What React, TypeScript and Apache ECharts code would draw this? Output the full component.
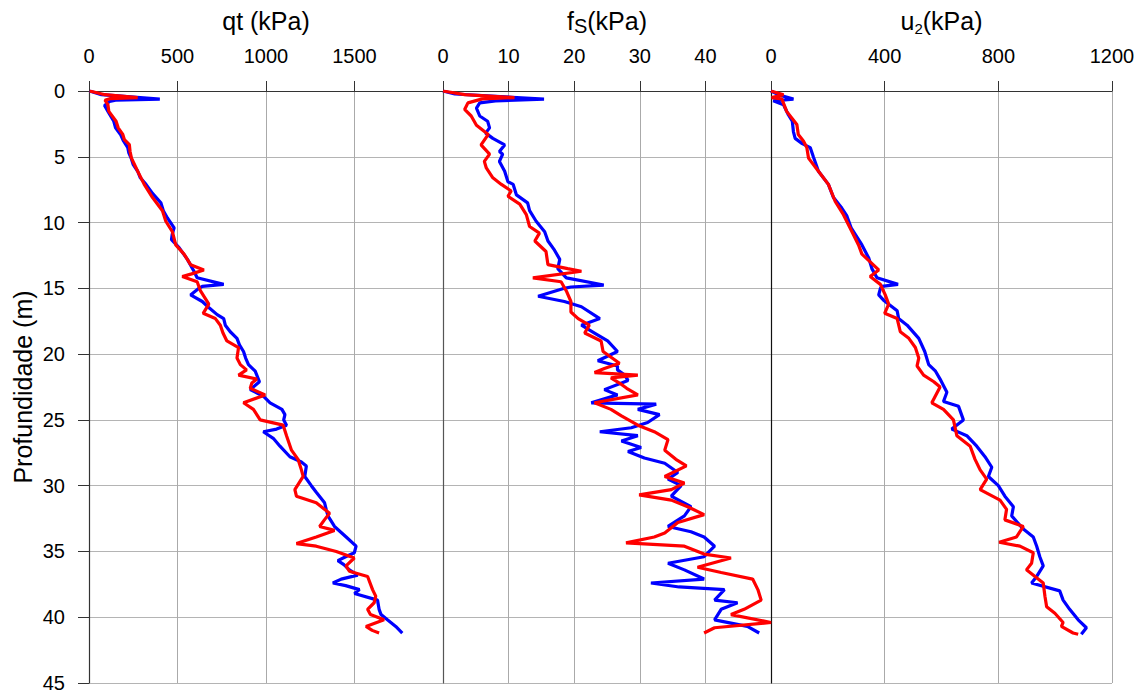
import React, { useEffect, useRef } from "react";
import * as echarts from "echarts";

// ---- Data (depth in m, values in kPa) ----
const qtBlueDepth = [0, 0.28, 0.62, 0.7, 0.8, 1.1, 1.55, 2.3, 2.8, 3.3, 3.8, 4.3, 4.7, 5.1, 5.6, 6.1, 6.6, 7.1, 7.8, 8.5, 9.1, 9.65, 10.4, 10.9, 11.3, 11.9, 12.8, 13.7, 14.2, 14.7, 14.85, 15.0, 15.5, 16.0, 16.5, 17.0, 17.3, 17.8, 18.3, 18.8, 19.3, 19.8, 20.3, 20.8, 21.3, 22.1, 22.7, 23.2, 23.7, 24.2, 24.6, 25.0, 25.4, 25.7, 25.9, 26.4, 27.0, 27.8, 28.2, 28.5, 29.3, 30.0, 30.5, 31.3, 31.8, 32.3, 33.1, 33.9, 34.6, 35.1, 35.4, 35.7, 36.0, 36.4, 36.8, 37.1, 37.4, 37.6, 37.9, 38.2, 38.7, 39.4, 39.8, 40.2, 40.7, 41.2];
const qtBlueValue = [4, 70, 400, 150, 116, 88, 107, 140, 150, 178, 195, 219, 225, 238, 250, 275, 290, 322, 360, 406, 420, 443, 481, 470, 466, 509, 556, 593, 611, 761, 640, 621, 574, 640, 680, 724, 761, 770, 798, 836, 850, 873, 885, 901, 939, 963, 911, 985, 1023, 1090, 1107, 1100, 1116, 1060, 985, 1041, 1079, 1135, 1200, 1228, 1219, 1256, 1284, 1331, 1340, 1350, 1387, 1453, 1509, 1499, 1450, 1406, 1440, 1471, 1518, 1425, 1378, 1450, 1528, 1500, 1630, 1639, 1650, 1686, 1733, 1770];
const qtRedDepth = [0, 0.28, 0.5, 0.58, 0.7, 1.04, 1.55, 2.3, 2.8, 3.3, 3.7, 4.08, 4.6, 5.1, 6.1, 7.1, 8.1, 9.1, 9.9, 10.7, 11.7, 12.4, 13.2, 13.6, 13.9, 14.1, 14.5, 15.2, 16.2, 16.9, 17.3, 17.8, 18.4, 19.0, 19.5, 20.3, 20.8, 21.2, 21.6, 21.9, 22.2, 22.6, 23.1, 23.7, 24.2, 25.0, 25.4, 26.2, 27.3, 28.0, 28.8, 29.3, 30.3, 30.8, 31.3, 32.1, 32.6, 33.1, 33.4, 33.9, 34.4, 34.6, 35.0, 35.5, 36.1, 36.5, 36.9, 37.9, 38.4, 38.9, 39.4, 39.8, 40.2, 40.7, 41.0, 41.2];
const qtRedValue = [4, 90, 275, 120, 90, 107, 112, 153, 165, 191, 200, 228, 232, 240, 275, 312, 359, 415, 434, 471, 490, 537, 574, 649, 580, 527, 611, 630, 677, 645, 714, 742, 757, 779, 845, 836, 855, 890, 845, 948, 920, 911, 995, 873, 929, 967, 1097, 1116, 1144, 1181, 1200, 1210, 1163, 1172, 1284, 1359, 1330, 1303, 1387, 1284, 1172, 1284, 1397, 1499, 1452, 1471, 1574, 1602, 1620, 1611, 1574, 1590, 1667, 1565, 1600, 1639];

const fsBlueDepth = [0, 0.23, 0.62, 0.75, 0.9, 1.3, 1.9, 2.3, 2.8, 3.2, 3.6, 4.1, 4.6, 4.8, 5.35, 6.1, 6.9, 7.1, 7.9, 8.5, 9.1, 9.9, 10.7, 11.4, 12.1, 12.8, 13.5, 14.2, 14.75, 14.9, 15.0, 15.6, 16.0, 16.4, 17.3, 17.8, 18.4, 19.0, 19.8, 20.5, 20.9, 21.2, 21.6, 22.0, 22.7, 23.1, 23.7, 23.8, 24.2, 24.6, 25.2, 25.6, 25.9, 26.2, 26.6, 27.1, 27.4, 27.9, 28.3, 29.0, 29.5, 30.0, 30.8, 31.6, 32.3, 33.1, 33.5, 33.9, 34.6, 35.4, 35.9, 36.4, 37.1, 37.4, 37.7, 37.9, 38.7, 38.9, 39.4, 40.2, 40.7, 41.2];
const fsBlueValue = [0, 1.8, 15.4, 8, 5.6, 5.1, 5.6, 6.8, 7.1, 6.5, 7.6, 9.4, 8.6, 9.1, 8.6, 9.4, 9.9, 10.7, 11.2, 12.9, 13.2, 14.2, 15.5, 16.0, 17.0, 17.8, 17.5, 18.8, 24.5, 19.5, 18.5, 14.5, 18.5, 21.1, 23.9, 21.1, 23.1, 25.1, 26.6, 23.6, 26.6, 26.6, 27.7, 28.2, 24.6, 26.6, 22.6, 32.5, 29.7, 33.0, 31.2, 28.7, 23.9, 29.7, 27.2, 30.2, 28.2, 30.7, 33.8, 35.8, 34.3, 36.3, 34.8, 37.8, 36.8, 34.3, 37.8, 39.8, 41.4, 39.8, 34.3, 36.8, 39.8, 31.7, 36, 42.9, 41.4, 44.9, 42.4, 41.4, 46.4, 48.2];
const fsRedDepth = [0, 0.28, 0.5, 0.6, 0.9, 1.4, 1.9, 2.6, 3.3, 4.1, 4.8, 5.35, 5.85, 6.6, 7.1, 7.6, 8.0, 8.6, 9.4, 10.3, 10.8, 11.4, 12.2, 13.2, 13.5, 13.7, 14.2, 14.5, 15.2, 16.0, 16.8, 17.3, 17.8, 18.4, 19.0, 19.8, 20.7, 21.1, 21.4, 21.6, 21.8, 22.2, 22.6, 23.1, 23.7, 24.2, 24.7, 25.4, 25.9, 26.5, 27.3, 28.0, 28.5, 29.3, 29.8, 30.3, 30.7, 31.1, 31.6, 32.2, 32.8, 33.6, 33.9, 34.35, 34.6, 35.2, 35.5, 36.2, 36.6, 37.1, 37.9, 38.7, 39.4, 39.8, 40.4, 40.8, 41.2];
const fsRedValue = [0, 3.3, 10.9, 6, 3.8, 3.3, 4.3, 5.1, 6.9, 5.8, 7.1, 6.3, 6.6, 7.6, 8.9, 10.4, 9.9, 11.7, 12.7, 13.2, 14.7, 14.0, 15.7, 16.0, 19.0, 21.1, 13.7, 18.0, 18.8, 19.5, 19.5, 20.6, 22.3, 21.6, 24.1, 24.4, 26.9, 24.6, 23.1, 29.7, 25.6, 26.9, 28, 29.7, 23.1, 25.6, 27.2, 29.7, 32.2, 34.3, 33.8, 35.5, 37.1, 33.8, 36.8, 34.8, 29.9, 34.8, 37.3, 39.8, 35.8, 33.8, 32.2, 27.9, 36.8, 39.8, 43.9, 38.8, 42.4, 47.2, 48.0, 48.5, 45.9, 43.9, 50, 41.4, 39.8];

const u2BlueDepth = [0, 0.28, 0.62, 0.75, 1.04, 1.8, 2.3, 3.1, 3.6, 4.0, 4.3, 5.0, 6.1, 7.1, 8.1, 8.9, 9.5, 10.4, 11.7, 12.7, 13.5, 14.2, 14.7, 14.85, 15.0, 15.5, 15.9, 16.7, 17.3, 17.8, 18.8, 19.8, 20.8, 21.3, 21.9, 22.9, 23.6, 23.97, 25.0, 25.7, 26.2, 27.0, 27.8, 28.6, 29.3, 30.0, 30.8, 31.6, 32.3, 33.3, 33.9, 34.6, 35.4, 36.1, 36.9, 37.4, 38.0, 38.7, 39.4, 40.2, 40.8, 41.3];
const u2BlueValue = [0, 26, 79, 8, 44, 61, 75, 79, 85, 110, 138, 149, 167, 202, 220, 249, 267, 282, 320, 344, 355, 373, 447, 390, 385, 379, 396, 444, 449, 479, 520, 541, 555, 579, 595, 619, 607, 660, 677, 636, 689, 724, 753, 777, 765, 800, 823, 853, 847, 888, 923, 935, 946, 958, 935, 917, 1016, 1028, 1051, 1081, 1110, 1092];
const u2RedDepth = [0, 0.28, 0.5, 0.6, 1.55, 2.55, 3.3, 3.8, 4.3, 5.1, 6.1, 7.1, 8.4, 9.4, 10.7, 11.7, 12.4, 13.6, 14.1, 14.7, 15.5, 16.2, 16.9, 17.3, 18.3, 18.8, 19.5, 20.3, 20.9, 21.6, 22.1, 22.5, 23.7, 24.2, 25.0, 26.2, 27.0, 28.0, 28.8, 29.5, 30.3, 31.1, 31.8, 32.6, 33.1, 33.9, 34.3, 34.6, 35.1, 35.9, 36.4, 37.4, 38.4, 39.2, 39.7, 40.4, 40.7, 41.2, 41.3];
const u2RedValue = [0, 44, 2, 38, 55, 91, 96, 114, 126, 132, 167, 202, 226, 255, 285, 308, 320, 379, 349, 385, 402, 414, 400, 444, 455, 485, 508, 520, 514, 537, 573, 595, 566, 607, 642, 654, 701, 718, 736, 759, 736, 806, 829, 823, 888, 864, 803, 876, 923, 917, 899, 958, 964, 970, 999, 1028, 1022, 1063, 1081];

const depthTicks = { min: 0, max: 45, interval: 5 };
const qtAxis = { min: 0, max: 2000, interval: 500 };
const fsAxis = { min: 0, max: 50, interval: 10 };
const u2Axis = { min: 0, max: 1200, interval: 400 };

const pairs = (vals: number[], depths: number[]) => vals.map((v, i) => [v, depths[i]]);

const FONT = "'Liberation Sans', Arial, sans-serif";
const BLUE = "#0000ff";
const RED = "#ff0000";

export default function App() {
  const ref = useRef<HTMLDivElement>(null);
  useEffect(() => {
    if (!ref.current) return;
    const chart = echarts.init(ref.current, undefined, { renderer: "svg" });
    const top = 91;
    const height = 592;
    const grids = [
      { left: 89, top, width: 354, height },
      { left: 443, top, width: 328, height },
      { left: 771, top, width: 341, height },
    ];
    const plain = (v: number) => String(v);
    const mkX = (gi: number, ax: any, name: string, rich: any, showMax: boolean) => ({
      type: "value",
      gridIndex: gi,
      position: "top",
      min: ax.min,
      max: ax.max,
      interval: ax.interval,
      name,
      nameLocation: "middle",
      nameGap: 55,
      nameTextStyle: { fontFamily: FONT, color: "#000", rich },
      axisLine: { show: true, onZero: false, lineStyle: { color: "#333", width: 1.2 } },
      axisTick: { show: true, inside: false, length: 10, lineStyle: { color: "#333" } },
      axisLabel: {
        show: true,
        margin: 25,
        fontSize: 20,
        fontFamily: FONT,
        color: "#000",
        formatter: plain,
        showMaxLabel: showMax,
        showMinLabel: true,
      },
      splitLine: { show: true, lineStyle: { color: "#aaaaaa", width: 1 } },
    });
    const mkY = (gi: number, first: boolean, lineColor: string) => ({
      type: "value",
      gridIndex: gi,
      inverse: true,
      min: depthTicks.min,
      max: depthTicks.max,
      interval: depthTicks.interval,
      name: first ? "Profundidade (m)" : "",
      nameLocation: "middle",
      nameGap: 54,
      nameTextStyle: { fontFamily: FONT, fontSize: 25, color: "#000" },
      axisLine: { show: true, onZero: false, lineStyle: { color: lineColor, width: 1.2 } },
      axisTick: { show: first, length: 11, lineStyle: { color: "#333" } },
      axisLabel: { show: first, margin: 24, fontSize: 20, fontFamily: FONT, color: "#000", formatter: plain },
      splitLine: { show: true, lineStyle: { color: "#b4b4b4", width: 1 } },
    });
    const mainRich = { m: { fontSize: 25, lineHeight: 30, fontFamily: FONT, color: "#000" } };
    const line = (name: string, xi: number, data: number[][], color: string, z: number) => ({
      name,
      type: "line",
      xAxisIndex: xi,
      yAxisIndex: xi,
      data,
      showSymbol: false,
      symbol: "none",
      z,
      lineStyle: { color, width: 3.2 },
      itemStyle: { color },
    });
    chart.setOption({
      animation: false,
      backgroundColor: "#ffffff",
      textStyle: { fontFamily: FONT },
      grid: grids,
      xAxis: [
        mkX(0, qtAxis, "{m|qt (kPa)}", mainRich, false),
        mkX(1, fsAxis, "{m|f}{s|S}{m|(kPa)}", {
          ...mainRich,
          s: { fontSize: 20, lineHeight: 20, verticalAlign: "bottom", fontFamily: FONT, color: "#000" },
        }, false),
        mkX(2, u2Axis, "{m|u}{s|2}{m|(kPa)}", {
          ...mainRich,
          s: { fontSize: 15, lineHeight: 13, verticalAlign: "bottom", fontFamily: FONT, color: "#000" },
        }, true),
      ],
      yAxis: [mkY(0, true, "#333"), mkY(1, false, "#555"), mkY(2, false, "#111")],
      series: [
        line("qt azul", 0, pairs(qtBlueValue, qtBlueDepth), BLUE, 2),
        line("qt vermelho", 0, pairs(qtRedValue, qtRedDepth), RED, 3),
        line("fs azul", 1, pairs(fsBlueValue, fsBlueDepth), BLUE, 2),
        line("fs vermelho", 1, pairs(fsRedValue, fsRedDepth), RED, 3),
        line("u2 azul", 2, pairs(u2BlueValue, u2BlueDepth), BLUE, 2),
        line("u2 vermelho", 2, pairs(u2RedValue, u2RedDepth), RED, 3),
      ],
    });
    return () => chart.dispose();
  }, []);
  return (
    <div
      ref={ref}
      style={{ position: "absolute", left: 0, top: 0, width: 1143, height: 693, background: "#fff" }}
    />
  );
}
